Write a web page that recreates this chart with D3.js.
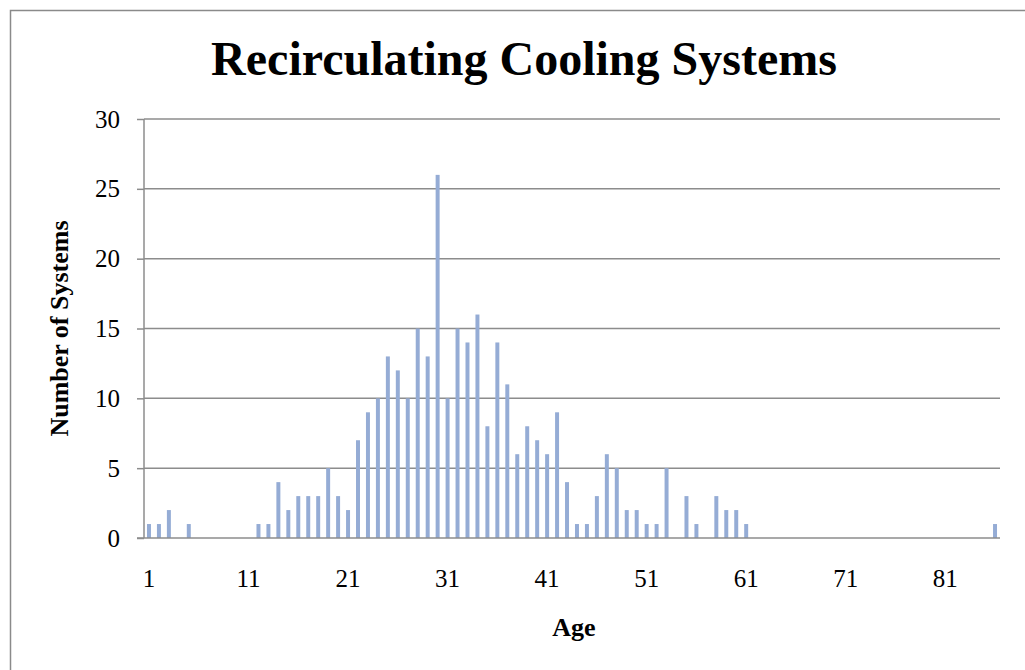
<!DOCTYPE html>
<html>
<head>
<meta charset="utf-8">
<script src="https://cdn.jsdelivr.net/npm/d3@7"></script>
<style>
  body { margin: 0; background: #fff; }
  svg { display: block; font-family: "Liberation Serif", "Times New Roman", serif; }
</style>
</head>
<body>
<svg id="chart" width="1025" height="670"></svg>
<script>
// ages 1..86 and number of systems at each age
const ages = d3.range(1, 87);
const counts = [
  1, 1, 2, 0, 1, 0, 0, 0, 0, 0,
  0, 1, 1, 4, 2, 3, 3, 3, 5, 3,
  2, 7, 9, 10, 13, 12, 10, 15, 13, 26,
  10, 15, 14, 16, 8, 14, 11, 6, 8, 7,
  6, 9, 4, 1, 1, 3, 6, 5, 2, 2,
  1, 1, 5, 0, 3, 1, 0, 3, 2, 2,
  1, 0, 0, 0, 0, 0, 0, 0, 0, 0,
  0, 0, 0, 0, 0, 0, 0, 0, 0, 0,
  0, 0, 0, 0, 0, 1
];
const yTicks = [0, 5, 10, 15, 20, 25, 30];
const xTickLabels = [1, 11, 21, 31, 41, 51, 61, 71, 81];

const data = ages.map((a, i) => ({ age: a, n: counts[i] }));

const svg = d3.select('#chart');
const plotL = 144, plotR = 1000, plotT = 119, plotB = 538;

// outer chart frame (right/bottom edges fall outside the view)
svg.append('rect')
  .attr('x', 10.5).attr('y', 10.5)
  .attr('width', 1030).attr('height', 680)
  .attr('fill', 'none').attr('stroke', '#8a8a8a').attr('stroke-width', 1.5);

const x = d3.scaleBand().domain(ages).range([plotL, plotR]).paddingInner(0.6).paddingOuter(0.3);
const y = d3.scaleLinear().domain([0, 30]).range([plotB, plotT]);

// gridlines
svg.append('g')
  .selectAll('line')
  .data(yTicks.filter(d => d > 0))
  .join('line')
  .attr('x1', plotL).attr('x2', plotR)
  .attr('y1', d => y(d)).attr('y2', d => y(d))
  .attr('stroke', '#8c8c8c').attr('stroke-width', 1.5);

// bars
svg.append('g')
  .selectAll('rect')
  .data(data.filter(d => d.n > 0))
  .join('rect')
  .attr('x', d => x(d.age))
  .attr('width', x.bandwidth())
  .attr('y', d => y(d.n))
  .attr('height', d => y(0) - y(d.n))
  .attr('fill', '#95acd5');

// y axis
const yAxis = svg.append('g')
  .attr('transform', `translate(${plotL},0)`)
  .call(d3.axisLeft(y).tickValues(yTicks).tickSize(7).tickPadding(17));
yAxis.select('.domain').attr('stroke', '#8c8c8c').attr('stroke-width', 1.5).attr('d', `M0,${plotT}V${plotB}`);
yAxis.selectAll('.tick line').attr('stroke', '#8c8c8c').attr('stroke-width', 1.5);
yAxis.selectAll('.tick text').attr('font-size', 25).attr('fill', '#000')
  .attr('font-family', '"Liberation Serif", serif');

// x axis
const xAxis = svg.append('g')
  .attr('transform', `translate(0,${plotB})`)
  .call(d3.axisBottom(x).tickValues(xTickLabels).tickSize(0).tickPadding(31));
xAxis.select('.domain').attr('stroke', '#8c8c8c').attr('stroke-width', 1.5).attr('d', `M${plotL - 7},0H${plotR}`);
xAxis.selectAll('.tick text').attr('font-size', 25).attr('fill', '#000')
  .attr('font-family', '"Liberation Serif", serif');

// title
svg.append('text')
  .attr('x', 524).attr('y', 75)
  .attr('text-anchor', 'middle')
  .attr('font-size', 48).attr('font-weight', 'bold')
  .text('Recirculating Cooling Systems');

// axis titles
svg.append('text')
  .attr('x', 574).attr('y', 636)
  .attr('text-anchor', 'middle')
  .attr('font-size', 26).attr('font-weight', 'bold')
  .text('Age');

svg.append('text')
  .attr('transform', `translate(68,${(plotT + plotB) / 2}) rotate(-90)`)
  .attr('text-anchor', 'middle')
  .attr('font-size', 26).attr('font-weight', 'bold')
  .text('Number of Systems');
</script>
</body>
</html>
